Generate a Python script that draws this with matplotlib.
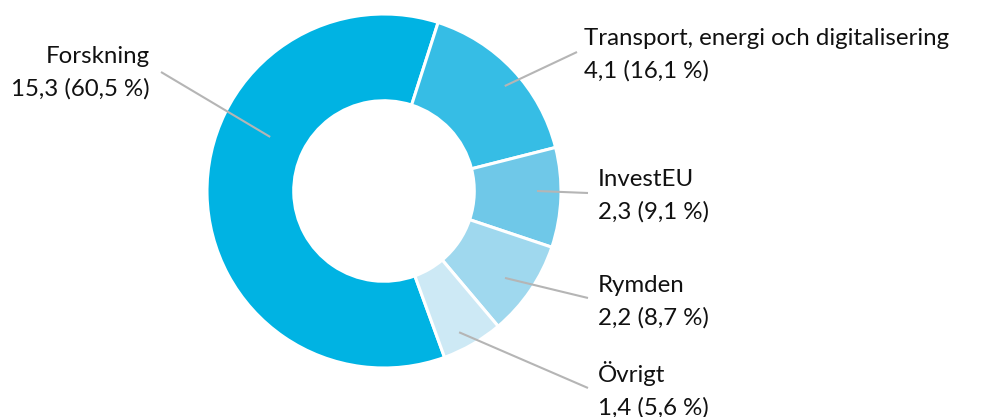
import matplotlib
matplotlib.use("Agg")
import matplotlib.pyplot as plt
import numpy as np

# datos
categorias = ["Forskning", "Transport, energi och digitalisering", "InvestEU", "Rymden", "Övrigt"]
valores = ["15,3", "4,1", "2,3", "2,2", "1,4"]
porcentajes = [60.5, 16.1, 9.1, 8.7, 5.6]
colores = ["#00b3e3", "#36bde5", "#6fc8e8", "#9fd8ee", "#cde9f5"]

W, H = 995, 417
fig = plt.figure(figsize=(W / 100, H / 100), dpi=100)
ax = fig.add_axes([0, 0, 1, 1])

cx, cy, R = 384, H - 191, 177
wedges, _ = ax.pie(porcentajes, colors=colores, startangle=290, counterclock=False,
                   center=(cx, cy), radius=R, frame=True,
                   wedgeprops=dict(width=R * 0.49, edgecolor="white", linewidth=2.2))
ax.set_xlim(0, W)
ax.set_ylim(0, H)
ax.axis("off")

# posicion de textos (px desde arriba) y punto interno de la linea
texto_xy = [(150, 63, "right"), (584, 45, "left"), (598, 186, "left"), (598, 292, "left"), (598, 382, "left")]
linea_fin = [(161, 72), (577, 52), (588, 193), (588, 298), (588, 388)]
linea_ang = [154.6, 41, 0, -35.7, -62]
linea_r = [126, 160, 153, 149, 160]

fuente = "Lato"
for i in range(len(categorias)):
    tx, ty, ha = texto_xy[i]
    ax.text(tx, H - ty, categorias[i], ha=ha, va="baseline", fontsize=17.3,
            family=fuente, color="#111111")
    pct = f"{porcentajes[i]:.1f}".replace(".", ",")
    ax.text(tx, H - ty - 33, f"{valores[i]} ({pct} %)", ha=ha, va="baseline",
            fontsize=17.3, family=fuente, color="#111111")
    a = np.deg2rad(linea_ang[i])
    x0 = cx + linea_r[i] * np.cos(a)
    y0 = cy + linea_r[i] * np.sin(a)
    x1, y1 = linea_fin[i]
    ax.plot([x0, x1], [y0, H - y1], color="#b5b5b5", lw=1.5, solid_capstyle="butt")

plt.savefig("out.png", dpi=100)
